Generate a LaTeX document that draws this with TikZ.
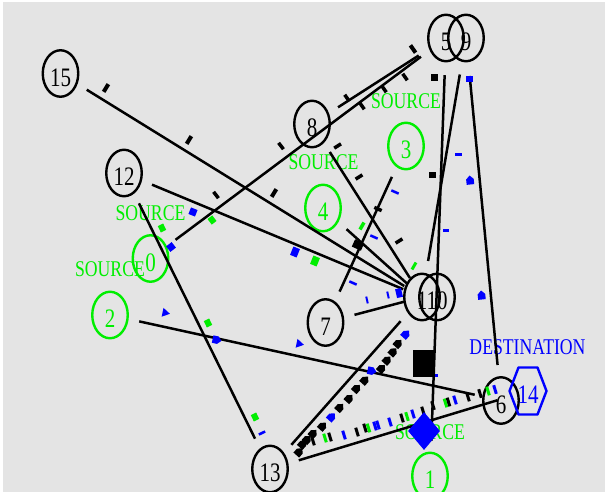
\documentclass[tikz,border=0pt]{standalone}
\usepackage{fontspec}
\setmainfont{Liberation Serif}
\usepackage{graphicx}
\usetikzlibrary{shapes.geometric,calc}
\definecolor{canvas}{RGB}{228,228,228}
\definecolor{srcgreen}{RGB}{0,238,0}
\definecolor{dstblue}{RGB}{0,0,255}
% text is drawn slightly stretched vertically
\newcommand{\tallt}[1]{\scalebox{1}[1.27]{#1}}
% packets: x, y, angle, colour, length along link, width
\newcommand{\pktrect}[6]{\fill[#4,shift={(#1,#2)},rotate=#3] (-#5/2,-#6/2) rectangle (#5/2,#6/2);}
\newcommand{\pktarrow}[4]{\fill[#4,shift={(#1,#2)},rotate=#3] (-4.5,-3.8) -- (0.8,-3.8) -- (4.5,0) -- (0.8,3.8) -- (-4.5,3.8) -- cycle;}
\newcommand{\pkttri}[4]{\fill[#4,shift={(#1,#2)},rotate=#3] (-3.5,-4.5) -- (4,0) -- (-3.5,4.5) -- cycle;}
\begin{document}
\begin{tikzpicture}[x=1pt,y=-1pt,line join=round,
  nd/.style={ellipse, draw=black, line width=2.4pt, minimum width=35.5pt, minimum height=46.5pt, inner sep=0pt, outer sep=0pt},
  nlab/.style={font=\fontsize{21}{21}\selectfont, inner sep=0pt, yshift=-4pt},
  knode/.style={nd, label={[nlab]center:\tallt{#1}}},
  gnode/.style={nd, draw=srcgreen, label={[nlab,text=srcgreen]center:\tallt{#1}}},
  tag/.style={font=\fontsize{17.7}{18}\selectfont, inner sep=0pt},
  srctag/.style={tag, text=srcgreen},
  dsttag/.style={tag, text=dstblue},
  lnk/.style={draw=black, line width=2.5pt, shorten <=12pt, shorten >=12pt}]

\useasboundingbox (0,0) rectangle (605,492);
\fill[canvas] (0,0) rectangle (605,492);
\fill[white] (0,0) rectangle (605,2);
\fill[white] (0,0) rectangle (2.5,492);

% nodes
\node[knode=15] (n15) at (60.5,73.5) {};
\node[knode=12] (n12) at (124,173) {};
\node[knode=8]  (n8)  at (312,124) {};
\node[knode=5]  (n5)  at (446,38) {};
\node[knode=9]  (n9)  at (466,38) {};
\node[knode=7]  (n7)  at (325.5,322.5) {};
\node[knode=1]  (n11) at (422,297) {};
\node[knode=10] (n10) at (437,297) {};
\node[knode=6]  (n6)  at (501,400.5) {};
\node[knode=13] (n13) at (270,469) {};
\node[gnode=0]  (n0)  at (150.5,258.5) {};
\node[gnode=2]  (n2)  at (110,315) {};
\node[gnode=3]  (n3)  at (406,146) {};
\node[gnode=4]  (n4)  at (323,208) {};
\node[gnode=1]  (n1)  at (430,476) {};
\node[minimum width=38pt, minimum height=48pt, inner sep=0pt, outer sep=0pt,
      label={[nlab,text=dstblue]center:\tallt{14}}] (n14) at (528,391) {};
\draw[dstblue, line width=2.4pt]
  ($(n14)+(-18.5,0)$) -- ($(n14)+(-9.5,-23.5)$) -- ($(n14)+(9.5,-23.5)$) --
  ($(n14)+(18.5,0)$) -- ($(n14)+(9.5,23.5)$) -- ($(n14)+(-9.5,23.5)$) -- cycle;

% agent tags
\node[srctag] (tag3) at (406,101) {\tallt{SOURCE}};
\node[srctag] (tag4) at (323.5,162.5) {\tallt{SOURCE}};
\node[srctag] (tag0) at (150.5,213) {\tallt{SOURCE}};
\node[srctag] (tag2) at (110,269) {\tallt{SOURCE}};
\node[srctag] (tag1) at (430,432.5) {\tallt{SOURCE}};
\node[dsttag] (tag14) at (527.5,347) {\tallt{DESTINATION}};

% links
\draw[lnk, shorten >=2pt] (n15) -- (n11);
\draw[lnk, shorten >=2pt] (n12) -- (n11);
\draw[lnk, shorten >=1.3pt] (n8) -- (n11);
\draw[lnk, shorten >=1pt] (n4) -- (n11);
\draw[lnk] (n3) -- (n7);
\draw[lnk, shorten >=0pt] (n7) -- (n11);
\draw[lnk] (n0) -- (n5);
\draw[lnk, shorten >=13.5pt] (n8) -- (n5);
\draw[lnk] (n12) -- (n13);
\draw[lnk, shorten >=9pt] (n2) -- (n6);
\draw[lnk] (n13) -- (n11);
\draw[lnk] (n13) -- (n14);
\draw[lnk, shorten <=14pt] (n5) -- (n1);
\draw[lnk, shorten <=14pt, shorten >=13.5pt] (n9) -- (n11);
\draw[lnk, shorten <=15pt, shorten >=12.5pt] (n9) -- (n6);

% packets in flight: black
\pktrect{106}{88}{-31.4}{black}{4}{9}
\pktrect{189}{140}{-31.4}{black}{4}{9}
\pktrect{274}{193}{-31.4}{black}{4}{9}
\pktrect{413}{49}{35}{black}{4}{9}
\pktrect{405}{77}{35}{black}{3.5}{8}
\pktrect{384}{89}{35}{black}{3.5}{8}
\pktrect{362}{106}{35}{black}{3.5}{8}
\pktrect{347}{98}{35}{black}{3.5}{8}
\pktrect{281}{146}{37}{black}{3.5}{8}
\pktrect{216}{195}{37}{black}{3.5}{8}
\pktrect{337.6}{146}{-57.9}{black}{3.5}{8}
\pktrect{359}{177}{-57.9}{black}{3.5}{8}
\pktrect{399}{241}{-57.9}{black}{3.5}{8}
\pktrect{378}{209}{65.6}{black}{3.5}{8}
\pktrect{358}{245}{65.6}{black}{8}{10}
\pktrect{434}{78}{0}{black}{7}{7}
\pktrect{432}{175}{0}{black}{7}{6}

% packets in flight: blue
\pktrect{193}{212}{-22}{dstblue}{7}{7}
\pktrect{171}{247}{37}{dstblue}{7}{7}
\pktrect{295}{252}{-22}{dstblue}{7}{9}
\pktrect{458}{155}{0}{dstblue}{7}{3}
\pktarrow{470}{180}{96}{dstblue}
\pktrect{469}{79}{0}{dstblue}{7}{6}
\pktrect{395}{192}{-24}{dstblue}{8}{2.5}
\pktrect{446}{230}{0}{dstblue}{6}{3}
\pktrect{374}{237}{-24}{dstblue}{8}{2.5}
\pktrect{353}{283}{-24}{dstblue}{8}{2.5}
\pktrect{367}{300}{13}{dstblue}{2}{7}
\pktrect{388}{295}{13}{dstblue}{2}{7}
\pktrect{399}{293}{13}{dstblue}{6}{9}
\pktarrow{481.5}{295}{96}{dstblue}
\pkttri{166}{313}{-12}{dstblue}
\pktarrow{217}{340}{-12}{dstblue}
\pkttri{300}{344}{-12}{dstblue}
\pktarrow{372}{371}{-12}{dstblue}
\pktrect{262}{433}{26}{dstblue}{7}{2.5}
\pktrect{436}{375}{0}{dstblue}{3}{3}

% packets in flight: green
\pktrect{162}{228}{26}{srcgreen}{6}{7}
\pktrect{212}{220}{37}{srcgreen}{6}{7}
\pktrect{315}{261}{-22}{srcgreen}{7}{9}
\pktrect{362}{226}{-30}{srcgreen}{3.5}{8}
\pktrect{414}{266}{-30}{srcgreen}{3}{8}
\pktrect{208}{323}{26}{srcgreen}{6}{7}
\pktrect{255}{417}{26}{srcgreen}{6}{7}

% queue of packets on the 13 -> hub link
\pktarrow{406}{334}{48}{dstblue}
\pktarrow{398.3}{343.3}{48}{black}
\pktarrow{393.3}{351.7}{48}{black}
\pktarrow{387.3}{360}{48}{black}
\pktarrow{381.7}{368.3}{48}{black}
\pktarrow{365}{380}{48}{black}
\pktarrow{356.7}{388.3}{48}{black}
\pktarrow{349.3}{398.3}{48}{black}
\pktarrow{340}{407.3}{48}{black}
\pktarrow{331.7}{416.7}{48}{dstblue}
\pktarrow{322.7}{426}{48}{black}
\pktarrow{313.3}{433.3}{48}{black}
\pktarrow{307.3}{439.3}{48}{black}
\pktarrow{302.7}{444}{48}{black}
\pktarrow{299.3}{451.7}{48}{black}

% stream of packets on the 13 -> 14 link
\pktrect{313}{441}{17}{black}{3}{9}
\pktrect{325}{438}{17}{srcgreen}{3}{9}
\pktrect{330}{437}{17}{black}{3}{9}
\pktrect{344}{435}{17}{dstblue}{3}{9}
\pktrect{357}{432}{17}{black}{3}{9}
\pktrect{365}{428}{17}{black}{3}{9}
\pktrect{368.5}{428}{17}{srcgreen}{3}{9}
\pktrect{375}{426}{17}{dstblue}{3}{9}
\pktrect{378}{425}{17}{dstblue}{3}{9}
\pktrect{390}{422}{17}{dstblue}{3}{9}
\pktrect{402}{418}{17}{black}{3}{9}
\pktrect{407}{416.5}{17}{srcgreen}{3}{9}
\pktrect{413}{414}{17}{dstblue}{3}{9}
\pktrect{423}{411}{17}{black}{3}{9}
\pktrect{433}{405.5}{17}{black}{3}{9}
\pktrect{445.5}{403}{17}{srcgreen}{3}{9}
\pktrect{448.5}{402}{17}{black}{3}{9}
\pktrect{455}{400}{17}{dstblue}{3}{9}
\pktrect{468}{397}{17}{black}{3}{9}
\pktrect{480}{393.5}{17}{black}{3}{9}
\pktrect{488}{391}{17}{srcgreen}{3}{9}
\pktrect{495}{389.5}{17}{dstblue}{3}{9}

% dropped packet and destination marker
\node[fill=black, minimum width=22pt, minimum height=27pt, inner sep=0pt] (dropmark) at (424,363.5) {};
\node[diamond, fill=dstblue, minimum width=32pt, minimum height=38pt, inner sep=0pt] (dstmark) at (424,431) {};
\end{tikzpicture}
\end{document}
